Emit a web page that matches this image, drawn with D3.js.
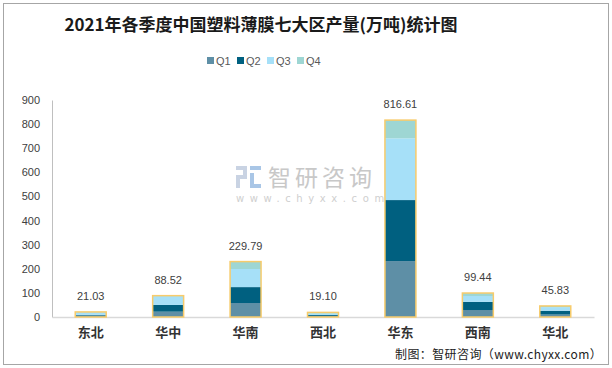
<!DOCTYPE html>
<html><head><meta charset="utf-8">
<script src="https://cdn.jsdelivr.net/npm/d3@7"></script>
<style>body{margin:0;background:#fff}svg{display:block}</style>
</head><body>
<svg id="c" width="612" height="368"></svg>
<script>
const categories = ["东北","华中","华南","西北","华东","西南","华北"];
const seriesNames = ["Q1","Q2","Q3","Q4"];
const q1 = [6, 22, 58, 4, 232, 29, 10];
const q2 = [3, 28, 66, 4, 253, 34, 16];
const q3 = [10, 37.5, 75, 6, 256, 24, 15];
const q4 = [2.03, 1.02, 30.79, 5.1, 75.61, 12.44, 4.83];
const totals = [21.03, 88.52, 229.79, 19.10, 816.61, 99.44, 45.83];
const yTicks = [0,100,200,300,400,500,600,700,800,900];
const colors = ["#5E8FA6","#006080","#A6E0F8","#9ED6D3"];

const svg = d3.select("#c");
svg.append("rect").attr("x",3.5).attr("y",3.5).attr("width",605).attr("height",361)
  .attr("fill","#fff").attr("stroke","#A6A6A6").attr("stroke-width",1);

svg.append("text").attr("x",261).attr("y",31).attr("text-anchor","middle")
  .attr("font-family","'Noto Sans CJK SC',sans-serif").attr("font-weight","bold")
  .attr("font-size",17).attr("fill","#1a1a1a")
  .text("2021年各季度中国塑料薄膜七大区产量(万吨)统计图");

// legend
const lg = svg.append("g");
const lx = [207, 237, 267, 297];
seriesNames.forEach((s,i)=>{
  lg.append("rect").attr("x",lx[i]).attr("y",57).attr("width",7).attr("height",7).attr("fill",colors[i]);
  lg.append("text").attr("x",lx[i]+9).attr("y",64.5).attr("font-family","'Liberation Sans',Arial,sans-serif")
    .attr("font-size",11).attr("fill","#595959").text(s);
});

const x = d3.scaleBand().domain(categories).range([52,594]).paddingInner(0.6).paddingOuter(0.3);
const y = d3.scaleLinear().domain([0,900]).range([317,100]);

// watermark
const wm = svg.append("g");
wm.append("text").attr("x",268).attr("y",186).attr("font-family","'Noto Sans CJK SC',sans-serif")
  .attr("font-size",23).attr("fill","#C8C8C8").attr("letter-spacing",4).text("智研咨询");
wm.append("text").attr("x",236).attr("y",202).attr("font-family","'DejaVu Sans',sans-serif")
  .attr("font-size",10).attr("fill","#CFCFCF").attr("letter-spacing",5.6).text("www.chyxx.com");
wm.append("rect").attr("x",236).attr("y",166).attr("width",11).attr("height",4).attr("fill","#C9D3E3");
wm.append("rect").attr("x",243).attr("y",166).attr("width",4).attr("height",12).attr("fill","#C9D3E3");
wm.append("rect").attr("x",236).attr("y",175).attr("width",11).attr("height",4).attr("fill","#C9D3E3");
wm.append("rect").attr("x",236).attr("y",175).attr("width",4).attr("height",13).attr("fill","#C9D3E3");
wm.append("rect").attr("x",250).attr("y",166).attr("width",11).attr("height",4).attr("fill","#A9C6E6");
wm.append("rect").attr("x",250).attr("y",173).attr("width",4).attr("height",15).attr("fill","#A9C6E6");
wm.append("rect").attr("x",250).attr("y",184).attr("width",11).attr("height",4).attr("fill","#A9C6E6");

// axes
const yAxis = d3.axisLeft(y).tickValues(yTicks).tickSize(0).tickPadding(12);
const ya = svg.append("g").attr("transform","translate(52,0)").call(yAxis);
ya.select(".domain").attr("stroke","#BFBFBF");
ya.selectAll("text").attr("font-family","'Liberation Sans',Arial,sans-serif").attr("font-size",11).attr("fill","#404040");

const xAxis = d3.axisBottom(x).tickSize(0).tickPadding(11);
const xa = svg.append("g").attr("transform","translate(0,317)").call(xAxis);
xa.select(".domain").attr("stroke","#D9D9D9").attr("stroke-width",1.5);
xa.selectAll("text").attr("font-family","'Noto Sans CJK SC',sans-serif").attr("font-size",13)
  .attr("font-weight","bold").attr("fill","#333");

// stacked bars
const rows = categories.map((c,i)=>({cat:c,Q1:q1[i],Q2:q2[i],Q3:q3[i],Q4:q4[i]}));
const stack = d3.stack().keys(seriesNames)(rows);
stack.forEach((layer,li)=>{
  svg.append("g").selectAll("rect").data(layer).join("rect")
    .attr("x",d=>x(d.data.cat)).attr("width",x.bandwidth())
    .attr("y",d=>y(d[1])).attr("height",d=>y(d[0])-y(d[1]))
    .attr("fill",colors[li]);
});
// outlines
svg.append("g").selectAll("rect").data(categories).join("rect")
  .attr("x",d=>x(d)).attr("width",x.bandwidth())
  .attr("y",(d,i)=>y(totals[i])).attr("height",(d,i)=>y(0)-y(totals[i]))
  .attr("fill","none").attr("stroke","#F7CB6B").attr("stroke-width",1.5);
// value labels
svg.append("g").selectAll("text").data(categories).join("text")
  .attr("x",d=>x(d)+x.bandwidth()/2).attr("y",(d,i)=>y(totals[i])-12)
  .attr("text-anchor","middle").attr("font-family","'Liberation Sans',Arial,sans-serif")
  .attr("font-size",11).attr("fill","#404040").text((d,i)=>totals[i].toFixed(2));

svg.append("text").attr("x",395).attr("y",359).attr("font-family","'Noto Sans CJK SC',sans-serif")
  .attr("font-size",12).attr("letter-spacing",0.4).attr("fill","#222").text("制图：智研咨询（www.chyxx.com）");
</script>
</body></html>
